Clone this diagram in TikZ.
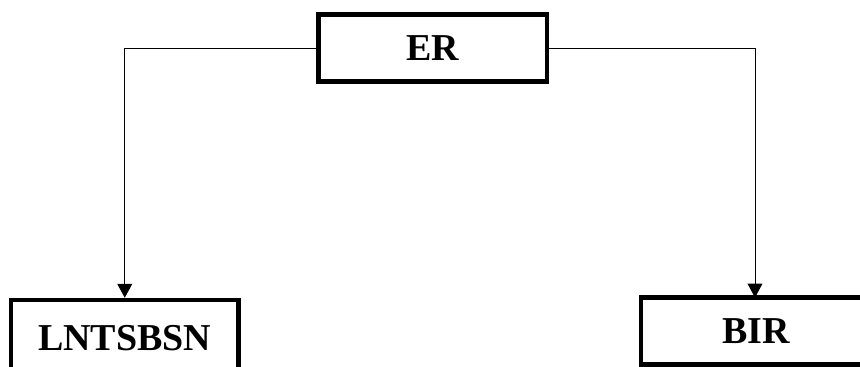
\documentclass[tikz,border=0pt]{standalone}
\usepackage{fontspec}
\setmainfont{Liberation Serif}
\usetikzlibrary{arrows.meta}
\begin{document}
\begin{tikzpicture}[x=1pt,y=-1pt,
  box/.style={draw=black,line width=4.5pt,fill=white,inner sep=0pt,
    font=\fontsize{38}{45}\selectfont\bfseries},
  conn/.style={draw=black,line width=1pt,-{Triangle[width=15pt,length=14pt]}}]
\useasboundingbox (0,0) rectangle (860,367);
\clip (0,0) rectangle (860,367);
\fill[white] (0,0) rectangle (860,367);
\node[box,minimum width=228.5pt,minimum height=67pt] (er) at (432.75,48) {ER};
\node[box,minimum width=227.5pt,minimum height=76pt] (lnt) at (124.75,338) {LNTSBSN};
\node[box,minimum width=300pt,minimum height=67pt,text width=228pt,align=left,text depth=0pt] (bir) at (791,331) {\hspace*{45pt}BIR};
\coordinate (birtop) at (755,297.5);
\draw[conn] (er.west) -| (lnt.north);
\draw[conn] (er.east) -| (birtop);
\end{tikzpicture}
\end{document}
